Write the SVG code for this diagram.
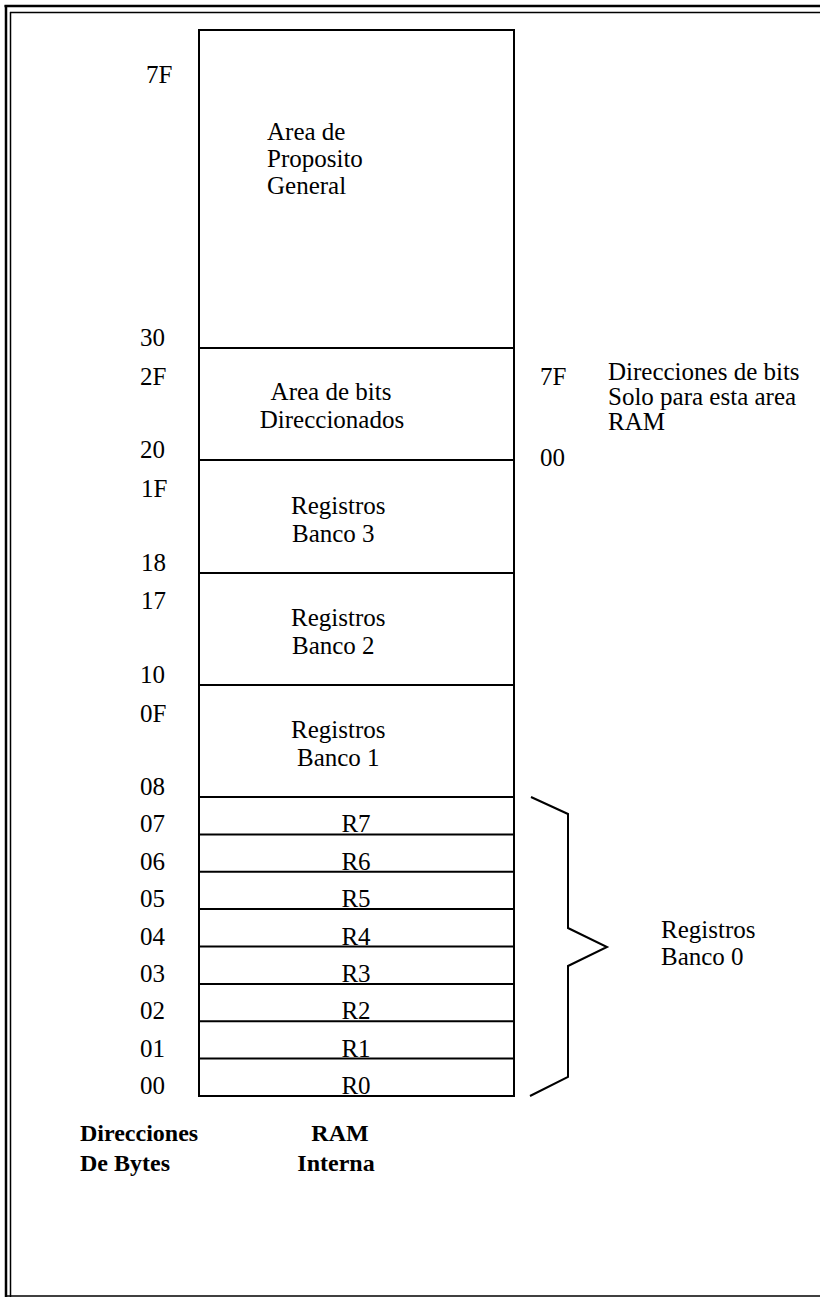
<svg xmlns="http://www.w3.org/2000/svg" width="820" height="1298" viewBox="0 0 820 1298">
<style>
  .t{font-family:"Liberation Serif","Times New Roman",serif;font-size:25px;fill:#000}
  .b{font-family:"Liberation Serif","Times New Roman",serif;font-size:24px;font-weight:bold;fill:#000}
  .box{fill:#fff;stroke:#000;stroke-width:2}
  .sep{stroke:#000;stroke-width:2;fill:none}
  .frame{stroke:#000;fill:none}
</style>
<rect x="0" y="0" width="820" height="1298" fill="#fff"/>
<g id="frame">
  <line class="frame" x1="4.5" y1="6" x2="820" y2="6" stroke-width="2.5"/>
  <line class="frame" x1="10" y1="12.5" x2="820" y2="12.5" stroke-width="1.5"/>
  <line class="frame" x1="6" y1="5" x2="6" y2="1297" stroke-width="2.5"/>
  <line class="frame" x1="10.5" y1="12" x2="10.5" y2="1297" stroke-width="1.5"/>
  <line class="frame" x1="6" y1="1296" x2="820" y2="1296" stroke-width="1.5"/>
</g>
<g id="ram">
  <rect class="box" x="199" y="30" width="315" height="1066"/>
</g>
<g id="area-proposito-general">
  <text class="t" x="267" y="140">Area de</text>
  <text class="t" x="267" y="167">Proposito</text>
  <text class="t" x="267" y="194">General</text>
</g>
<g id="area-bits">
  <line class="sep" x1="199" y1="348" x2="514" y2="348"/>
  <text class="t" x="331" y="400" text-anchor="middle">Area de bits</text>
  <text class="t" x="332" y="428" text-anchor="middle">Direccionados</text>
</g>
<g id="banco3">
  <line class="sep" x1="199" y1="460" x2="514" y2="460"/>
  <text class="t" x="291" y="514">Registros</text>
  <text class="t" x="292" y="542">Banco 3</text>
</g>
<g id="banco2">
  <line class="sep" x1="199" y1="573" x2="514" y2="573"/>
  <text class="t" x="291" y="626">Registros</text>
  <text class="t" x="292" y="654">Banco 2</text>
</g>
<g id="banco1">
  <line class="sep" x1="199" y1="685" x2="514" y2="685"/>
  <text class="t" x="291" y="738">Registros</text>
  <text class="t" x="297" y="766">Banco 1</text>
</g>
<g id="r7"><line class="sep" x1="199" y1="797" x2="514" y2="797"/><text class="t" x="356" y="832" text-anchor="middle">R7</text></g>
<g id="r6"><line class="sep" x1="199" y1="834.4" x2="514" y2="834.4"/><text class="t" x="356" y="870" text-anchor="middle">R6</text></g>
<g id="r5"><line class="sep" x1="199" y1="871.8" x2="514" y2="871.8"/><text class="t" x="356" y="907" text-anchor="middle">R5</text></g>
<g id="r4"><line class="sep" x1="199" y1="909.1" x2="514" y2="909.1"/><text class="t" x="356" y="945" text-anchor="middle">R4</text></g>
<g id="r3"><line class="sep" x1="199" y1="946.5" x2="514" y2="946.5"/><text class="t" x="356" y="982" text-anchor="middle">R3</text></g>
<g id="r2"><line class="sep" x1="199" y1="983.9" x2="514" y2="983.9"/><text class="t" x="356" y="1019" text-anchor="middle">R2</text></g>
<g id="r1"><line class="sep" x1="199" y1="1021.3" x2="514" y2="1021.3"/><text class="t" x="356" y="1057" text-anchor="middle">R1</text></g>
<g id="r0"><line class="sep" x1="199" y1="1058.6" x2="514" y2="1058.6"/><text class="t" x="356" y="1094" text-anchor="middle">R0</text></g>
<g id="byte-addresses">
  <text class="t" x="146" y="83">7F</text>
  <text class="t" x="140" y="346">30</text>
  <text class="t" x="140" y="385">2F</text>
  <text class="t" x="140" y="458">20</text>
  <text class="t" x="141" y="497">1F</text>
  <text class="t" x="141" y="571">18</text>
  <text class="t" x="141" y="609">17</text>
  <text class="t" x="140" y="683">10</text>
  <text class="t" x="140" y="722">0F</text>
  <text class="t" x="140" y="795">08</text>
  <text class="t" x="140" y="832">07</text>
  <text class="t" x="140" y="870">06</text>
  <text class="t" x="140" y="907">05</text>
  <text class="t" x="140" y="945">04</text>
  <text class="t" x="140" y="982">03</text>
  <text class="t" x="140" y="1019">02</text>
  <text class="t" x="140" y="1057">01</text>
  <text class="t" x="140" y="1094">00</text>
</g>
<g id="bit-addresses">
  <text class="t" x="540" y="385">7F</text>
  <text class="t" x="540" y="466">00</text>
  <text class="t" x="608" y="380">Direcciones de bits</text>
  <text class="t" x="608" y="405">Solo para esta area</text>
  <text class="t" x="608" y="430">RAM</text>
</g>
<g id="connectors">
  <polyline fill="none" stroke="#000" stroke-width="2" points="531,797 568,814 568,928 607,947 568,966 568,1077 530,1096"/>
</g>
<g id="banco0-label">
  <text class="t" x="661" y="938">Registros</text>
  <text class="t" x="661" y="965">Banco 0</text>
</g>
<g id="footer">
  <text class="b" x="80" y="1141">Direcciones</text>
  <text class="b" x="80" y="1171">De Bytes</text>
  <text class="b" x="340" y="1141" text-anchor="middle">RAM</text>
  <text class="b" x="336" y="1171" text-anchor="middle">Interna</text>
</g>
</svg>
